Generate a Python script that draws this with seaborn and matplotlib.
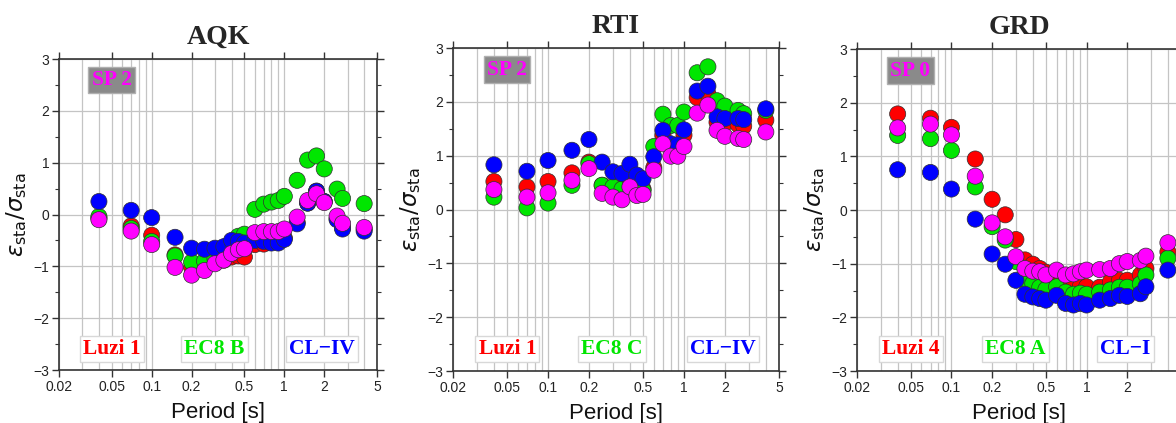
import numpy as np
import pandas as pd
import matplotlib
matplotlib.use("Agg")
import matplotlib.pyplot as plt
import seaborn as sns
from matplotlib.ticker import FixedLocator, FixedFormatter, MultipleLocator

# ---------------- data ----------------
periods = [0.04, 0.07, 0.1, 0.15, 0.2, 0.25, 0.3, 0.35, 0.4, 0.45, 0.5,
           0.6, 0.7, 0.8, 0.9, 1.0, 1.25, 1.5, 1.75, 2.0, 2.5, 2.75, 4.0]

stations = ["AQK", "RTI", "GRD"]
sp_labels = ["SP 2", "SP 2", "SP 0"]
luzi_labels = ["Luzi 1", "Luzi 1", "Luzi 4"]
ec8_labels = ["EC8 B", "EC8 C", "EC8 A"]
cl_labels = ["CL\u2212IV", "CL\u2212IV", "CL\u2212I"]

aqk_luzi = [-0.07, -0.22, -0.40, -0.78, -1.02, -0.98, -0.93, -0.88, -0.82, -0.80, -0.82,
            -0.58, -0.57, -0.52, -0.50, -0.45, -0.15, 0.22, 0.45, 0.25, -0.08, -0.25, -0.28]
aqk_ec8 = [-0.04, -0.27, -0.52, -0.80, -0.92, -0.90, -0.85, -0.78, -0.55, -0.42, -0.38,
           0.10, 0.20, 0.24, 0.27, 0.35, 0.66, 1.05, 1.13, 0.88, 0.49, 0.31, 0.21]
aqk_cl = [0.25, 0.08, -0.06, -0.44, -0.65, -0.67, -0.65, -0.62, -0.50, -0.52, -0.55,
          -0.50, -0.52, -0.55, -0.55, -0.48, -0.18, 0.22, 0.45, 0.25, -0.10, -0.28, -0.32]
aqk_sp = [-0.10, -0.32, -0.58, -1.02, -1.17, -1.08, -0.95, -0.88, -0.75, -0.68, -0.66,
          -0.35, -0.33, -0.33, -0.33, -0.28, -0.05, 0.27, 0.40, 0.23, -0.03, -0.17, -0.25]

rti_luzi = [0.52, 0.42, 0.52, 0.68, 0.88, 0.45, 0.38, 0.40, 0.55, 0.35, 0.38,
            0.78, 1.38, 1.15, 1.10, 1.38, 2.08, 2.15, 1.62, 1.60, 1.58, 1.55, 1.66]
rti_ec8 = [0.23, 0.03, 0.12, 0.45, 0.85, 0.45, 0.42, 0.38, 0.55, 0.58, 0.35,
           1.17, 1.77, 1.56, 1.56, 1.81, 2.54, 2.65, 2.02, 1.92, 1.84, 1.78, 1.84]
rti_cl = [0.83, 0.71, 0.91, 1.10, 1.30, 0.88, 0.70, 0.67, 0.84, 0.64, 0.57,
          0.98, 1.47, 1.22, 1.20, 1.48, 2.20, 2.29, 1.72, 1.69, 1.69, 1.67, 1.87]
rti_sp = [0.37, 0.23, 0.31, 0.54, 0.76, 0.30, 0.23, 0.18, 0.42, 0.26, 0.28,
          0.73, 1.22, 0.99, 0.99, 1.17, 1.79, 1.94, 1.47, 1.36, 1.32, 1.30, 1.44]

grd_luzi = [1.79, 1.71, 1.54, 0.95, 0.20, -0.09, -0.55, -0.93, -1.01, -1.09, -1.16,
            -1.28, -1.37, -1.44, -1.42, -1.43, -1.44, -1.34, -1.31, -1.31, -1.21, -1.09, -0.78]
grd_ec8 = [1.39, 1.33, 1.11, 0.43, -0.31, -0.56, -0.96, -1.30, -1.37, -1.44, -1.48,
           -1.43, -1.53, -1.57, -1.55, -1.57, -1.53, -1.49, -1.44, -1.44, -1.38, -1.21, -0.90]
grd_cl = [0.75, 0.70, 0.39, -0.17, -0.82, -1.01, -1.31, -1.57, -1.62, -1.65, -1.68,
          -1.59, -1.74, -1.77, -1.74, -1.77, -1.68, -1.65, -1.59, -1.61, -1.56, -1.43, -1.12]
grd_sp = [1.53, 1.60, 1.40, 0.63, -0.24, -0.50, -0.87, -1.09, -1.14, -1.15, -1.21,
          -1.12, -1.21, -1.19, -1.15, -1.12, -1.11, -1.09, -1.00, -0.96, -0.94, -0.86, -0.61]

series_names = ["Luzi", "EC8", "CL", "SP"]
station_values = {
    "AQK": [aqk_luzi, aqk_ec8, aqk_cl, aqk_sp],
    "RTI": [rti_luzi, rti_ec8, rti_cl, rti_sp],
    "GRD": [grd_luzi, grd_ec8, grd_cl, grd_sp],
}

x_major = [0.02, 0.05, 0.1, 0.2, 0.5, 1, 2, 5]
x_major_labels = ["0.02", "0.05", "0.1", "0.2", "0.5", "1", "2", "5"]
x_minor = [0.03, 0.04, 0.06, 0.07, 0.08, 0.09, 0.3, 0.4, 0.6, 0.7, 0.8, 0.9, 3, 4]

# ---------------- style ----------------
sns.set_theme(style="white")
plt.rcParams["font.family"] = ["Liberation Sans", "DejaVu Sans"]
plt.rcParams["mathtext.fontset"] = "dejavusans"

colors = {"Luzi": "#ff0000", "EC8": "#00e600", "CL": "#0000ff", "SP": "#ff00ff"}

W, H = 1176, 423
fig = plt.figure(figsize=(W / 100, H / 100), dpi=100)
fig.patch.set_facecolor("white")

# axes rectangles in pixels: left, right, top, bottom (last one runs past the edge)
rects = [(59, 377, 59, 370), (453, 779, 48, 371), (857, 1181, 49, 371)]

serif = ["Liberation Serif", "DejaVu Serif"]
gridc = "#c4c4c4"
framec = "#333333"

for i, st in enumerate(stations):
    l, r, t, b = rects[i]
    ax = fig.add_axes([l / W, (H - b) / H, (r - l) / W, (b - t) / H])
    ax.set_facecolor("white")

    vals = station_values[st]
    df = pd.concat([
        pd.DataFrame({"T": periods, "v": v, "src": name})
        for name, v in zip(series_names, vals)
    ], ignore_index=True)

    sns.scatterplot(data=df, x="T", y="v", hue="src", hue_order=series_names,
                    palette=colors, s=135, edgecolor="#303030", linewidth=0.5,
                    legend=False, ax=ax, zorder=3)

    ax.set_xscale("log")
    ax.set_xlim(0.02, 5)
    ax.set_ylim(-3, 3)

    labels = list(x_major_labels)
    if r > W:
        # the last annotation falls beyond the picture edge, as in the reference
        labels[-1] = ""
    ax.xaxis.set_major_locator(FixedLocator(x_major))
    ax.xaxis.set_major_formatter(FixedFormatter(labels))
    ax.xaxis.set_minor_locator(FixedLocator(x_minor))
    ax.xaxis.set_minor_formatter(FixedFormatter([""] * len(x_minor)))
    ax.yaxis.set_major_locator(MultipleLocator(1))
    ax.yaxis.set_minor_locator(MultipleLocator(0.5))

    ax.grid(True, which="both", axis="x", color=gridc, lw=0.9, zorder=0)
    ax.grid(True, which="major", axis="y", color=gridc, lw=0.9, zorder=0)
    ax.set_axisbelow(True)

    for sp in ax.spines.values():
        sp.set_visible(True)
        sp.set_color(framec)
        sp.set_linewidth(1.2)

    ax.tick_params(which="major", direction="out", length=5, width=1,
                   color=framec, top=True, right=True, bottom=True, left=True,
                   labelsize=10, labelcolor="#222222", pad=2)
    ax.tick_params(which="minor", direction="out", length=3, width=0.8,
                   color=framec, top=True, right=True, bottom=True, left=True)
    ax.tick_params(axis="x", which="minor", length=0)

    ax.set_xlabel("Period [s]", fontsize=16, labelpad=6, color="#111111")
    ax.set_ylabel(r"$\varepsilon_{\rm sta}/\sigma_{\rm sta}$", fontsize=16.5,
                  labelpad=3, color="#111111")
    ax.set_title(st, fontsize=20, fontweight="bold", family=serif, pad=11)

    # annotation boxes
    ax.text(0.165, 0.933, sp_labels[i], transform=ax.transAxes, ha="center",
            va="center", fontsize=15.5, fontweight="bold", family=serif,
            color="#ff00ff", zorder=5,
            bbox=dict(boxstyle="square,pad=0.15", fc="#8a8a8a", ec="#b0b0b0", lw=1))
    for xpos, txt, col in [(0.167, luzi_labels[i], "#ff0000"),
                           (0.488, ec8_labels[i], "#00e600"),
                           (0.828, cl_labels[i], "#0000ff")]:
        ax.text(xpos, 0.068, txt, transform=ax.transAxes, ha="center",
                va="center", fontsize=15.5, fontweight="bold", family=serif,
                color=col, zorder=5,
                bbox=dict(boxstyle="square,pad=0.15", fc="white", ec="#d8d8d8", lw=1))

fig.savefig("out.png", dpi=100, facecolor="white")
